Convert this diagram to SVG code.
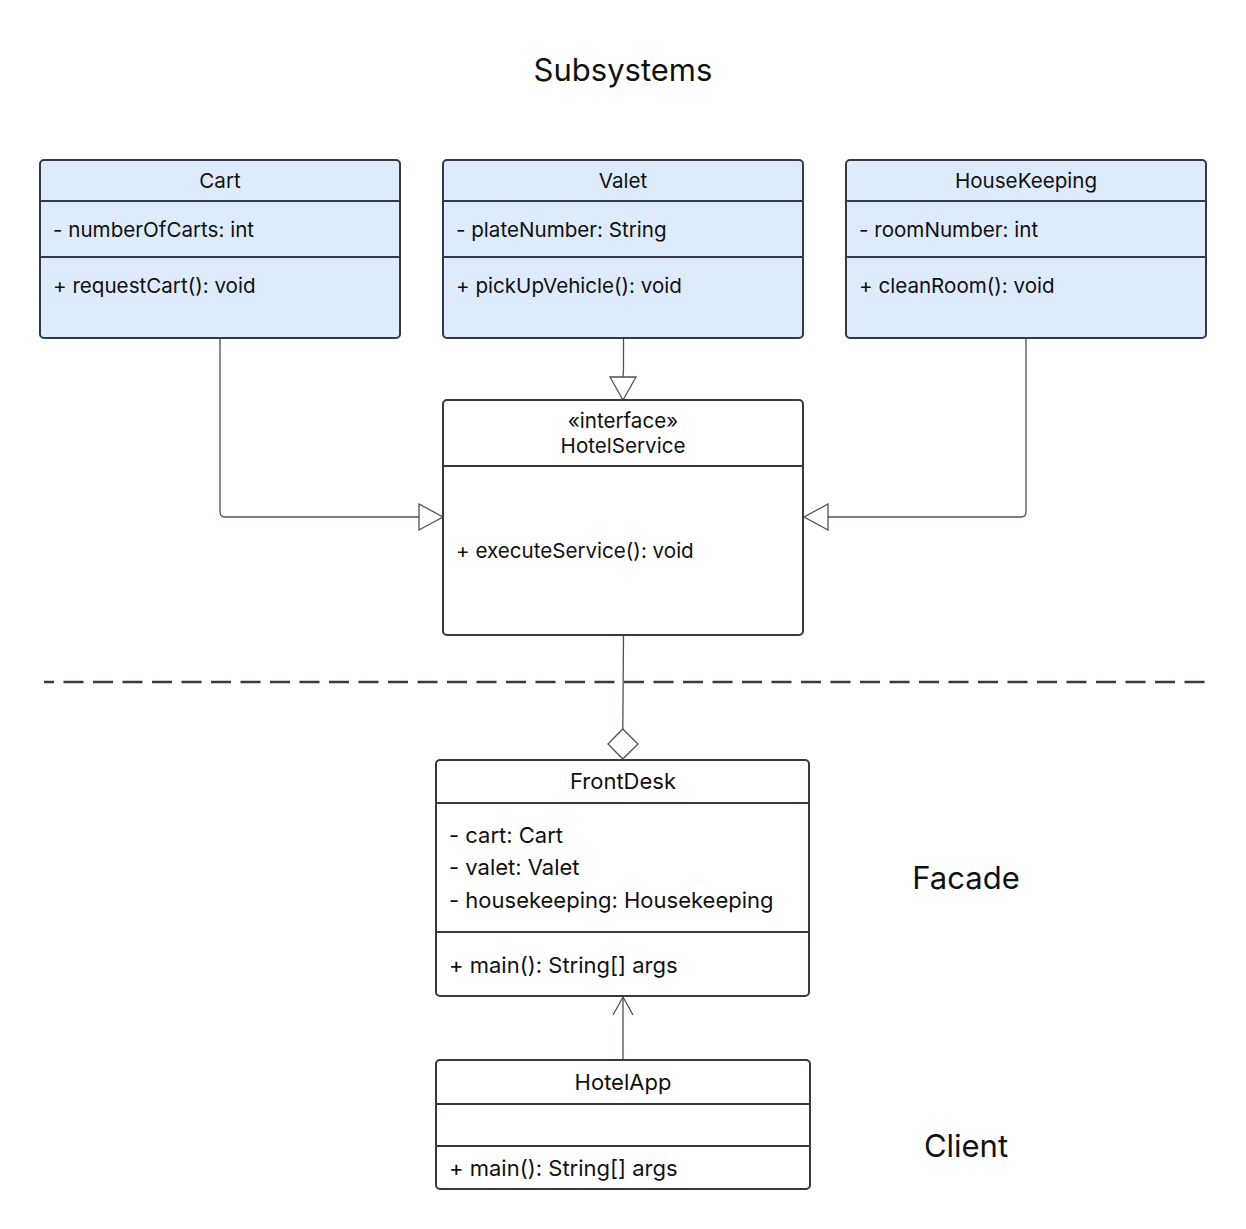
<svg xmlns="http://www.w3.org/2000/svg" width="1246" height="1229" viewBox="0 0 1246 1229">
<style>
text{font-family:Inter,"Noto Sans","Liberation Sans",sans-serif;fill:#111;}
.t{font-size:20.6px;text-anchor:middle;}
.a{font-size:20.6px;}
.t2{font-size:22px;text-anchor:middle;}
.a2{font-size:22px;}
.lbl{font-size:31px;text-anchor:middle;}
.box{stroke:#343a44;stroke-width:2;}
.sub{fill:#deebfd;}
.plain{fill:#fff;}
.div{stroke:#343a44;stroke-width:2;}
.ln{fill:none;stroke:#4a5060;stroke-width:1.3;}
.head{fill:#fff;stroke:#4a5060;stroke-width:1.3;}
</style>
<rect width="1246" height="1229" fill="#fff"/>
<text class="lbl" x="623" y="81">Subsystems</text>
<text class="lbl" x="966" y="889">Facade</text>
<text class="lbl" x="966" y="1157">Client</text>
<line x1="44" y1="682" x2="1206" y2="682" stroke="#343a44" stroke-width="2.5" stroke-dasharray="20 9.5" stroke-dashoffset="10"/>
<g id="connectors">
<path class="ln" d="M220 338 V512 Q220 517 225 517 H419"/>
<polygon class="head" points="419,504 443,517 419,530"/>
<path class="ln" d="M1026 338 V512 Q1026 517 1021 517 H828"/>
<polygon class="head" points="828,504 804,517 828,530"/>
<path class="ln" d="M623.5 338 V368 Q623.5 372 623 377"/>
<polygon class="head" points="610,377 636,377 623,400"/>
<path class="ln" d="M623.5 635 L622.8 729"/>
<polygon class="head" points="622.8,729 638,744 622.8,759 608,744"/>
<path class="ln" d="M623 1060 V997"/>
<path class="ln" d="M613 1015 L623 997 L633 1015"/>
</g>
<g id="Cart">
<rect class="box sub" x="40" y="160" width="360" height="178" rx="4"/>
<line class="div" x1="40" y1="201" x2="400" y2="201"/>
<line class="div" x1="40" y1="257" x2="400" y2="257"/>
<text class="t" x="220" y="188">Cart</text>
<text class="a" x="53" y="237">- numberOfCarts: int</text>
<text class="a" x="53" y="293">+ requestCart(): void</text>
</g>
<g id="Valet">
<rect class="box sub" x="443" y="160" width="360" height="178" rx="4"/>
<line class="div" x1="443" y1="201" x2="803" y2="201"/>
<line class="div" x1="443" y1="257" x2="803" y2="257"/>
<text class="t" x="623" y="188">Valet</text>
<text class="a" x="456" y="237">- plateNumber: String</text>
<text class="a" x="456" y="293">+ pickUpVehicle(): void</text>
</g>
<g id="HouseKeeping">
<rect class="box sub" x="846" y="160" width="360" height="178" rx="4"/>
<line class="div" x1="846" y1="201" x2="1206" y2="201"/>
<line class="div" x1="846" y1="257" x2="1206" y2="257"/>
<text class="t" x="1026" y="188">HouseKeeping</text>
<text class="a" x="859" y="237">- roomNumber: int</text>
<text class="a" x="859" y="293">+ cleanRoom(): void</text>
</g>
<g id="HotelService">
<rect class="box plain" x="443" y="400" width="360" height="235" rx="4"/>
<line class="div" x1="443" y1="466" x2="803" y2="466"/>
<text class="t" x="623" y="428">«interface»</text>
<text class="t" x="623" y="453">HotelService</text>
<text class="a" x="456" y="558">+ executeService(): void</text>
</g>
<g id="FrontDesk">
<rect class="box plain" x="436" y="760" width="373" height="236" rx="4"/>
<line class="div" x1="436" y1="803" x2="809" y2="803"/>
<line class="div" x1="436" y1="932" x2="809" y2="932"/>
<text class="t2" x="623" y="789">FrontDesk</text>
<text class="a2" x="449" y="843">- cart: Cart</text>
<text class="a2" x="449" y="875">- valet: Valet</text>
<text class="a2" x="449" y="908">- housekeeping: Housekeeping</text>
<text class="a2" x="449" y="973">+ main(): String[] args</text>
</g>
<g id="HotelApp">
<rect class="box plain" x="436" y="1060" width="374" height="129" rx="4"/>
<line class="div" x1="436" y1="1104" x2="810" y2="1104"/>
<line class="div" x1="436" y1="1146" x2="810" y2="1146"/>
<text class="t2" x="623" y="1090">HotelApp</text>
<text class="a2" x="449" y="1176">+ main(): String[] args</text>
</g>
</svg>
